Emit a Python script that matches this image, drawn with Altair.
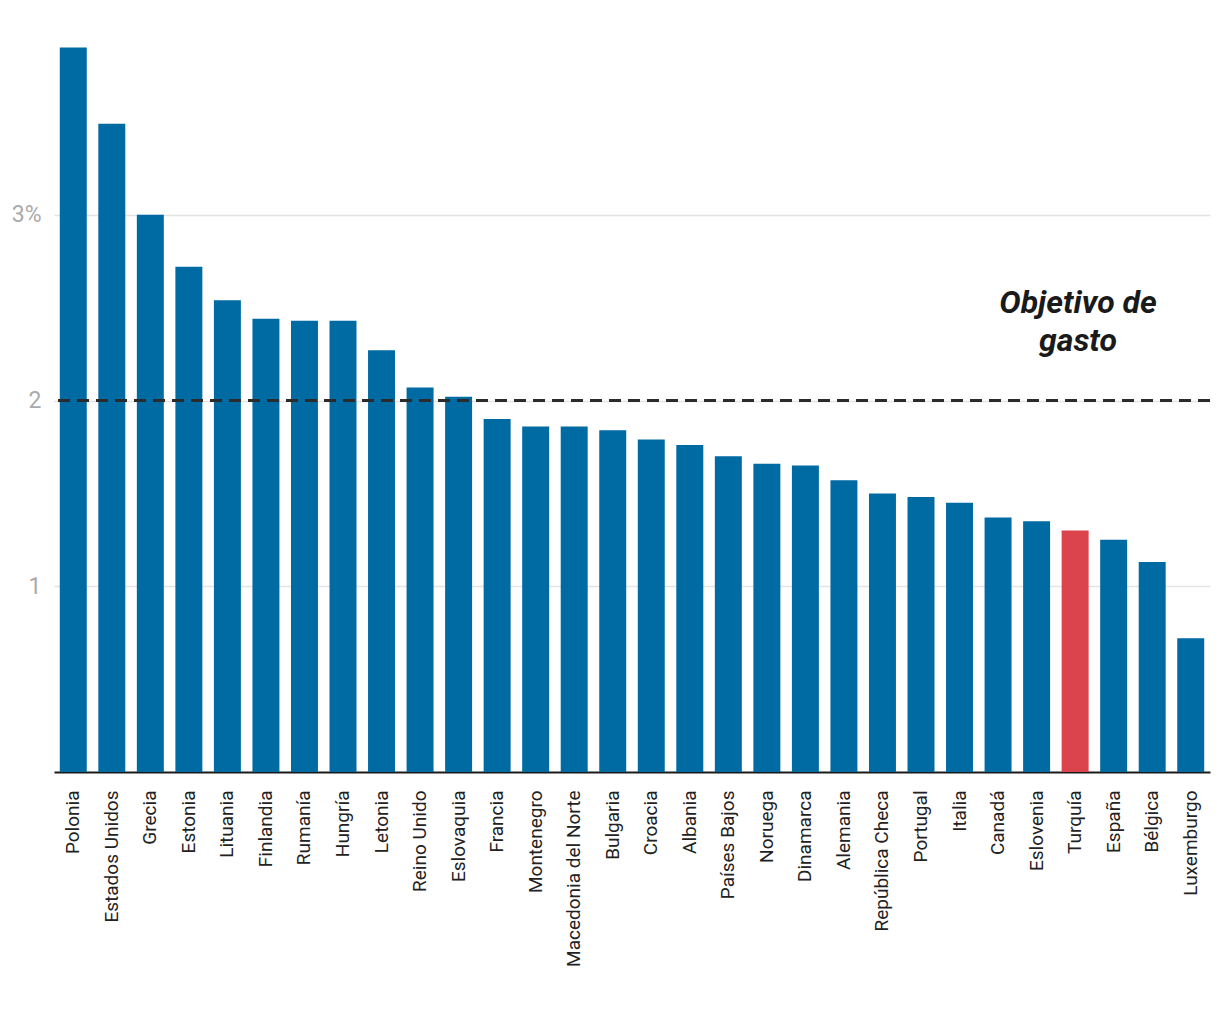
import altair as alt
import pandas as pd

countries = ["Polonia", "Estados Unidos", "Grecia", "Estonia", "Lituania", "Finlandia",
             "Rumanía", "Hungría", "Letonia", "Reino Unido", "Eslovaquia", "Francia",
             "Montenegro", "Macedonia del Norte", "Bulgaria", "Croacia", "Albania",
             "Países Bajos", "Noruega", "Dinamarca", "Alemania", "República Checa",
             "Portugal", "Italia", "Canadá", "Eslovenia", "Turquía", "España",
             "Bélgica", "Luxemburgo"]
values = [3.90, 3.49, 3.00, 2.72, 2.54, 2.44, 2.43, 2.43, 2.27, 2.07, 2.02, 1.90,
          1.86, 1.86, 1.84, 1.79, 1.76, 1.70, 1.66, 1.65, 1.57, 1.50, 1.48, 1.45,
          1.37, 1.35, 1.30, 1.25, 1.13, 0.72]
highlight = ["Turquía"]
target = 2
y_ticks = [1, 2, 3]
annotation = ["Objetivo de", "gasto"]

df = pd.DataFrame({
    "pais": countries,
    "gasto": values,
    "grupo": ["resaltado" if c in highlight else "otro" for c in countries],
})

base = alt.Chart(df)

bars = base.mark_bar().encode(
    x=alt.X("pais:N", sort=None, title=None,
            scale=alt.Scale(paddingInner=0.3, paddingOuter=0.15),
            axis=alt.Axis(labelAngle=-90, labelAlign="right", labelBaseline="middle",
                          labelFont="Roboto", labelFontSize=19, labelColor="#222222",
                          labelPadding=18, ticks=False, domain=True,
                          domainColor="#1a1a1a", domainWidth=2, grid=False)),
    y=alt.Y("gasto:Q", title=None,
            scale=alt.Scale(domain=[0, 4], nice=False),
            axis=alt.Axis(values=y_ticks,
                          labelExpr="datum.value == 3 ? '3%' : format(datum.value, 'd')",
                          labelFont="Roboto", labelFontSize=23, labelColor="#aaaaaa",
                          labelPadding=13, ticks=False, domain=False,
                          grid=True, gridColor="#e4e4e4", gridWidth=1.5)),
    color=alt.Color("grupo:N", legend=None,
                    scale=alt.Scale(domain=["otro", "resaltado"],
                                    range=["#006aa3", "#db444d"])),
)

rule = alt.Chart(pd.DataFrame({"objetivo": [target]})).mark_rule(
    color="#2b2b2b", strokeWidth=3, strokeDash=[12, 7]
).encode(y="objetivo:Q")

label = alt.Chart(pd.DataFrame({"t": [0]})).mark_text(
    text=annotation, font="Roboto", fontSize=32, fontWeight="bold", fontStyle="italic",
    color="#1a1a1a", align="center", baseline="alphabetic", lineHeight=38
).encode(x=alt.value(1024), y=alt.datum(2.47))

chart = alt.layer(bars, rule, label).properties(
    width=1156, height=743,
    autosize=alt.AutoSizeParams(type="none"),
    padding={"left": 46, "top": 21, "right": 2, "bottom": 230},
).configure_view(stroke=None)

chart.save("out.html", embed_options={"renderer": "svg", "actions": False})
